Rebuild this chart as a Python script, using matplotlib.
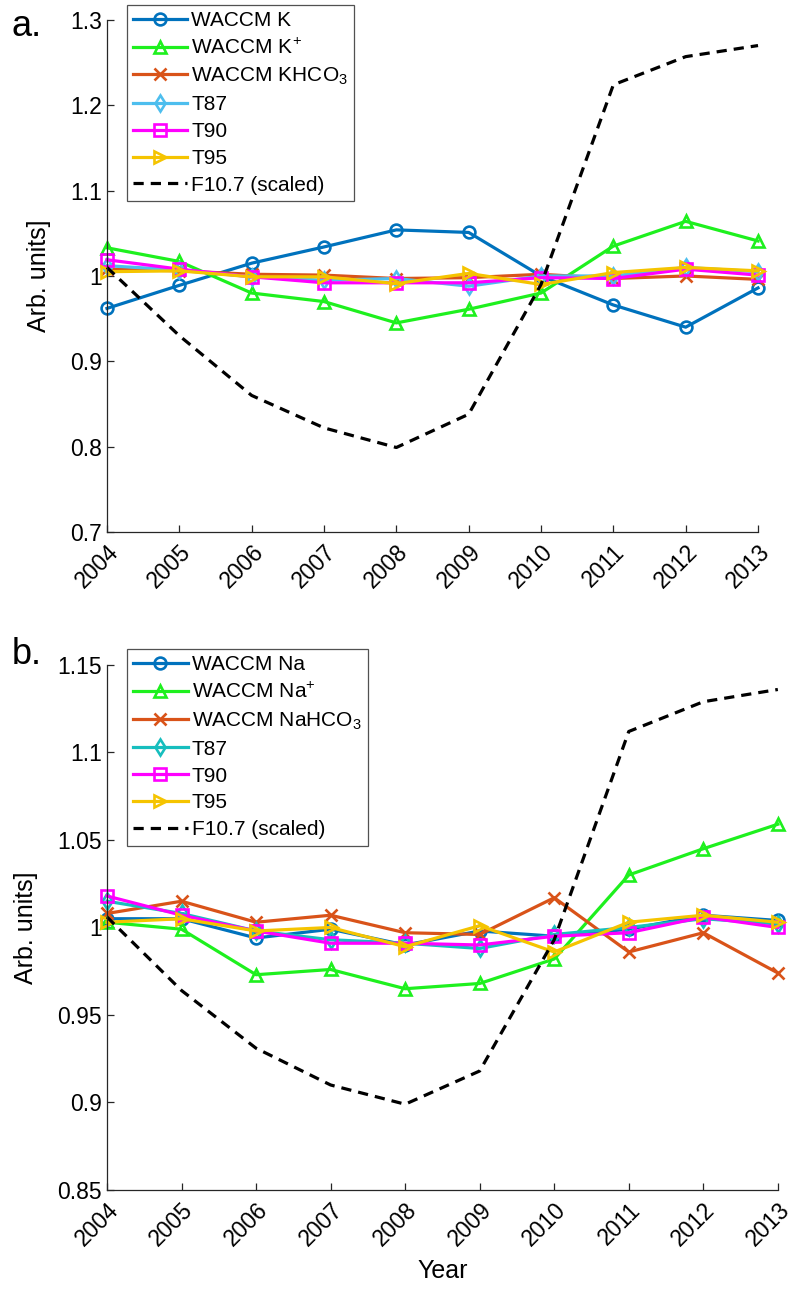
import numpy as np
import matplotlib
matplotlib.use("Agg")
import matplotlib.pyplot as plt

plt.rcParams['font.family'] = ['Liberation Sans', 'DejaVu Sans']
plt.rcParams['mathtext.default'] = 'regular'

years = np.arange(2004, 2014)

# panel a (potassium)
waccm_k = [0.962, 0.989, 1.015, 1.034, 1.054, 1.051, 1.000, 0.966, 0.940, 0.986]
waccm_kp = [1.033, 1.017, 0.980, 0.970, 0.945, 0.961, 0.980, 1.035, 1.064, 1.041]
waccm_khco3 = [1.008, 1.006, 1.002, 1.001, 0.997, 0.998, 1.002, 0.997, 1.000, 0.996]
t87_a = [1.012, 1.007, 0.999, 0.995, 0.997, 0.988, 1.000, 1.000, 1.010, 1.005]
t90_a = [1.019, 1.008, 0.999, 0.992, 0.992, 0.992, 0.998, 0.997, 1.008, 1.001]
t95_a = [1.005, 1.006, 0.999, 0.999, 0.991, 1.003, 0.990, 1.004, 1.010, 1.006]
f107_a = [1.010, 0.930, 0.860, 0.822, 0.799, 0.838, 0.990, 1.224, 1.257, 1.270]

# panel b (sodium)
waccm_na = [1.005, 1.005, 0.994, 0.999, 0.990, 0.998, 0.995, 0.999, 1.007, 1.004]
waccm_nap = [1.003, 0.999, 0.973, 0.976, 0.965, 0.968, 0.982, 1.030, 1.045, 1.059]
waccm_nahco3 = [1.008, 1.015, 1.003, 1.007, 0.997, 0.996, 1.017, 0.986, 0.997, 0.974]
t87_b = [1.015, 1.008, 0.998, 0.993, 0.991, 0.988, 0.996, 1.000, 1.005, 1.002]
t90_b = [1.018, 1.007, 0.998, 0.991, 0.991, 0.990, 0.995, 0.997, 1.006, 1.000]
t95_b = [1.003, 1.005, 0.998, 1.000, 0.989, 1.001, 0.986, 1.003, 1.007, 1.003]
f107_b = [1.006, 0.964, 0.931, 0.910, 0.899, 0.918, 0.993, 1.112, 1.129, 1.136]

BLUE = '#0072BD'
GREEN = '#1EF01E'
ORANGE = '#D95319'
LBLUE = '#4DBEEE'
TEAL = '#17BEBE'
MAGENTA = '#FF00FF'
YELLOW = '#F5C400'
AXCOL = '#262626'


def draw_panel(ax, series, f107, ylim, yticks):
    for vals, col, mk, lab in series:
        ax.plot(years, vals, color=col, marker=mk, markersize=8.5,
                markerfacecolor='none', markeredgewidth=1.9, linewidth=2.3,
                label=lab, clip_on=False)
    ax.plot(years, f107, color='black', linestyle='--', dashes=(3.2, 2.2),
            linewidth=2.3, label='F10.7 (scaled)', clip_on=False)
    ax.set_xlim(2004, 2013)
    ax.set_ylim(*ylim)
    ax.set_yticks(yticks)
    ax.set_yticklabels([f'{v:g}' for v in yticks])
    ax.set_xticks(years)
    ax.set_xticklabels([str(y) for y in years], rotation=45, ha='right',
                       va='top', rotation_mode='anchor')
    ax.spines['top'].set_visible(False)
    ax.spines['right'].set_visible(False)
    for s in ('left', 'bottom'):
        ax.spines[s].set_color(AXCOL)
        ax.spines[s].set_linewidth(0.9)
    ax.tick_params(direction='in', length=5, width=0.9, colors=AXCOL,
                   labelsize=16.5, labelcolor='black')
    ax.tick_params(axis='x', pad=6)
    ax.set_ylabel('Arb. units]', fontsize=18, labelpad=14)


fig = plt.figure(figsize=(7.93, 12.95), dpi=100)
ax_a = fig.add_axes([0.1349, 0.5892, 0.821, 0.3954])
ax_b = fig.add_axes([0.1349, 0.0811, 0.846, 0.4054])

series_a = [
    (waccm_k, BLUE, 'o', 'WACCM K'),
    (waccm_kp, GREEN, '^', 'WACCM K$^{+}$'),
    (waccm_khco3, ORANGE, 'x', 'WACCM KHCO$_3$'),
    (t87_a, LBLUE, 'd', 'T87'),
    (t90_a, MAGENTA, 's', 'T90'),
    (t95_a, YELLOW, '>', 'T95'),
]
series_b = [
    (waccm_na, BLUE, 'o', 'WACCM Na'),
    (waccm_nap, GREEN, '^', 'WACCM Na$^{+}$'),
    (waccm_nahco3, ORANGE, 'x', 'WACCM NaHCO$_3$'),
    (t87_b, TEAL, 'd', 'T87'),
    (t90_b, MAGENTA, 's', 'T90'),
    (t95_b, YELLOW, '>', 'T95'),
]

draw_panel(ax_a, series_a, f107_a, (0.7, 1.3), [0.7, 0.8, 0.9, 1.0, 1.1, 1.2, 1.3])
draw_panel(ax_b, series_b, f107_b, (0.85, 1.15), [0.85, 0.9, 0.95, 1.0, 1.05, 1.1, 1.15])
ax_b.set_xlabel('Year', fontsize=18, labelpad=6)

for ax in (ax_a, ax_b):
    leg = ax.legend(loc='upper left', bbox_to_anchor=(0.03, 1.03), fontsize=15,
                    frameon=True, fancybox=False, handlelength=2.6,
                    handletextpad=0.2, labelspacing=0.38, borderpad=0.3,
                    borderaxespad=0.0, numpoints=1)
    leg.get_frame().set_edgecolor(AXCOL)
    leg.get_frame().set_linewidth(0.9)

fig.text(0.015, 0.993, 'a.', fontsize=26, va='top', ha='left')
fig.text(0.015, 0.508, 'b.', fontsize=26, va='top', ha='left')

fig.savefig('out.png', dpi=100)
plt.close(fig)
